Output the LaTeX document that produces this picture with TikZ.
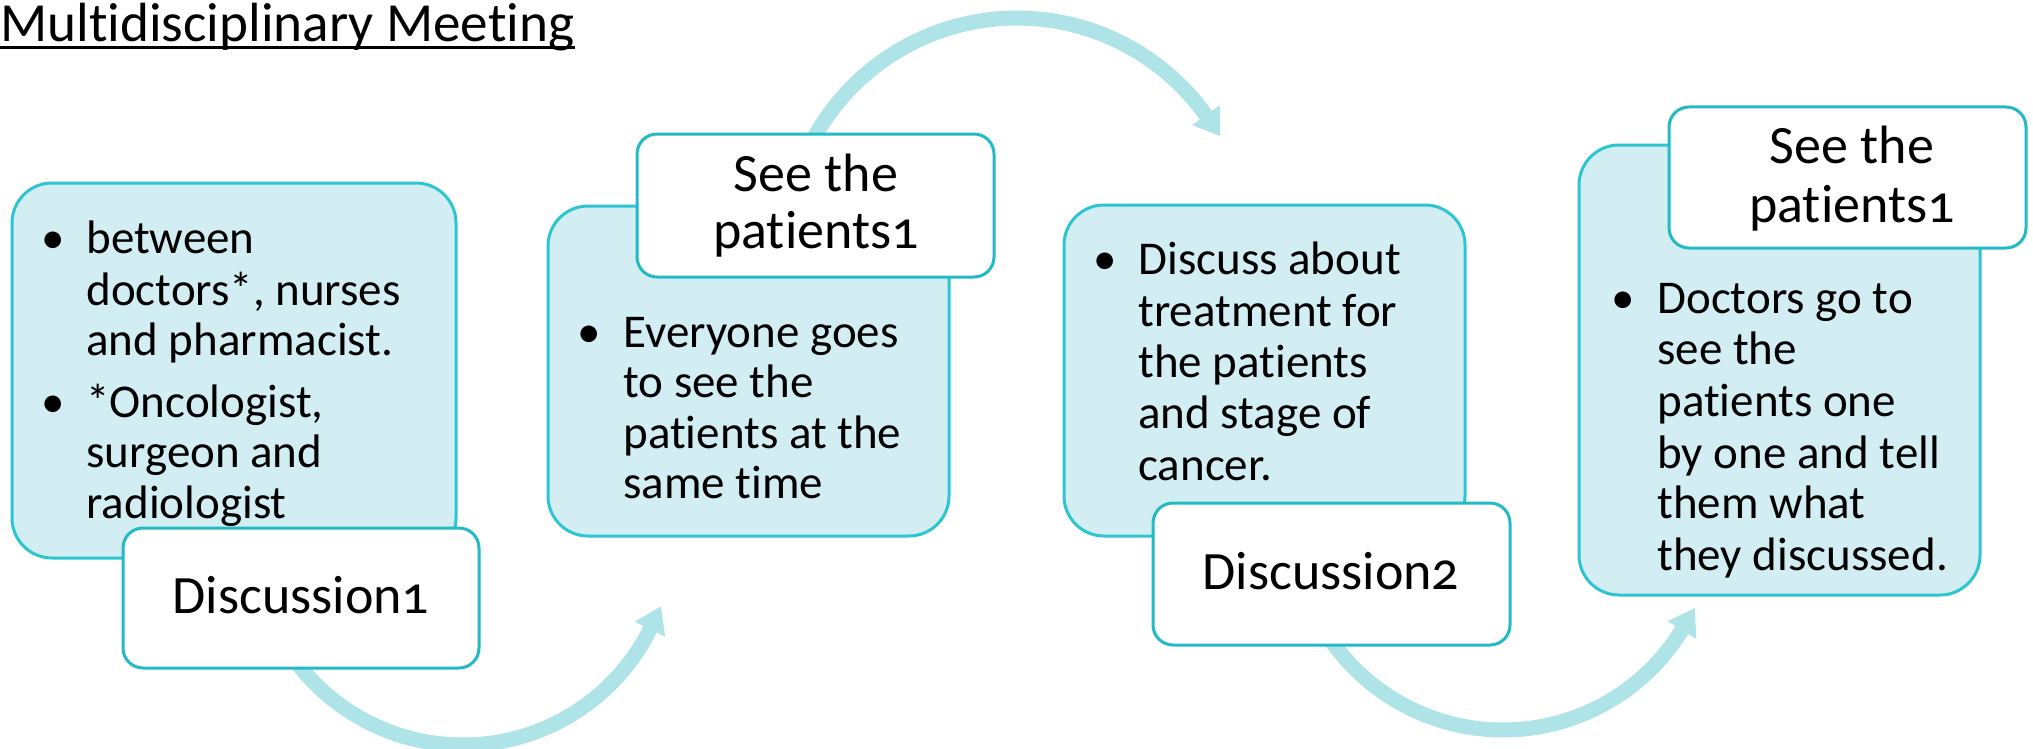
\documentclass[tikz,border=0pt]{standalone}
\usepackage{fontspec}
\setmainfont{Carlito}[Numbers=OldStyle, Ligatures=NoCommon]
\usetikzlibrary{fit}
\definecolor{boxfill}{HTML}{D3EEF2}
\definecolor{boxline}{HTML}{2CC5D1}
\definecolor{wline}{HTML}{22BAC5}
\definecolor{arrowcol}{HTML}{AEE3E8}
\tikzset{
 bluebox/.style={draw=boxline, fill=boxfill, line width=1.5pt, rounded corners=20pt, inner sep=0pt},
 whitebox/.style={draw=wline, fill=white, line width=1.5pt, rounded corners=10pt, inner sep=0pt},
 body/.style={font=\fontsize{23.5pt}{25.5pt}\selectfont, inner sep=0pt, anchor=base west},
 bul/.style={font=\fontsize{23.5pt}{25.5pt}\selectfont, inner sep=0pt, anchor=base},
 lab/.style={font=\fontsize{27pt}{28.5pt}\selectfont, inner sep=0pt, anchor=base},
 ttl/.style={font=\fontsize{27.6pt}{29pt}\selectfont, inner sep=0pt, anchor=base west},
 flowarc/.style={draw=arrowcol, line width=7.5pt},
}
% #1 cx, #2 cy, #3 R, #4 start angle, #5 base angle, #6 tip angle
\newcommand\bendarrow[6]{%
  \draw[flowarc] plot[domain=#4:#5, samples=90, variable=\t] ({#1+#3*cos(\t)},{#2+#3*sin(\t)});
  \fill[arrowcol] ({#1+(#3-17)*cos(#5)},{#2+(#3-17)*sin(#5)})
    -- ({#1+(#3+1)*cos(#6)},{#2+(#3+1)*sin(#6)})
    -- ({#1+(#3+17)*cos(#5)},{#2+(#3+17)*sin(#5)}) -- cycle;
}
\begin{document}
\begin{tikzpicture}[x=0.5pt, y=-0.5pt]
\useasboundingbox (0,0) rectangle (2033,749);

% curved arrows (behind the boxes)
\bendarrow{463}{536}{209}{150}{26.5}{19.6}
\bendarrow{1017}{250}{232}{200}{324.5}{330.7}
\bendarrow{1503}{520}{210}{150}{31.6}{24.7}

% title
\node[ttl] (title) at (0,42) {Multidisciplinary Meeting};
\draw[line width=1.5pt] ([yshift=-3pt]title.base west) -- ([yshift=-3pt]title.base east);

% blue boxes
\node[bluebox, fit={(12,183) (456,558)}] (B1) {};
\node[bluebox, fit={(548,206) (949,536)}] (B2) {};
\node[bluebox, fit={(1064,205) (1465,536)}] (B3) {};
\node[bluebox, fit={(1579,145) (1980,595)}] (B4) {};

% box 1 text
\node[bul] (b1a) at (53,253) {•};
\node[body] (t1a) at (86,253) {between};
\node[body] (t1b) at (86,305) {doctors*, nurses};
\node[body] (t1c) at (86,355) {and pharmacist.};
\node[bul] (b1b) at (53,417) {•};
\node[body] (t1d) at (86,417) {*Oncologist,};
\node[body] (t1e) at (86,467) {surgeon and};
\node[body] (t1f) at (86,518) {radiologist};

% box 2 text
\node[bul] (b2a) at (589,347) {•};
\node[body] (t2a) at (623,347) {Everyone goes};
\node[body] (t2b) at (623,397) {to see the};
\node[body] (t2c) at (623,448) {patients at the};
\node[body] (t2d) at (623,498) {same time};

% box 3 text
\node[bul] (b3a) at (1105,274) {•};
\node[body] (t3a) at (1138,274) {Discuss about};
\node[body] (t3b) at (1138,326) {treatment for};
\node[body] (t3c) at (1138,377) {the patients};
\node[body] (t3d) at (1138,428) {and stage of};
\node[body] (t3e) at (1138,480) {cancer.};

% box 4 text
\node[bul] (b4a) at (1623,313) {•};
\node[body] (t4a) at (1657,313) {Doctors go to};
\node[body] (t4b) at (1657,364) {see the};
\node[body] (t4c) at (1657,416) {patients one};
\node[body] (t4d) at (1657,468) {by one and tell};
\node[body] (t4e) at (1657,518) {them what};
\node[body] (t4f) at (1657,570) {they discussed.};

% white label boxes
\node[whitebox, fit={(123,528) (479,668)}] (W1) {};
\node[whitebox, fit={(637,134) (994,277)}] (W2) {};
\node[whitebox, fit={(1153,503) (1510,645)}] (W3) {};
\node[whitebox, fit={(1669,107) (2026,248)}] (W4) {};

\node[lab] (l1) at (301,613) {Discussion1};
\node[lab] (l2a) at (816,191) {See the};
\node[lab] (l2b) at (816,248) {patients1};
\node[lab] (l3) at (1331,589) {Discussion2};
\node[lab] (l4a) at (1852,163) {See the};
\node[lab] (l4b) at (1852,222) {patients1};
\end{tikzpicture}
\end{document}
